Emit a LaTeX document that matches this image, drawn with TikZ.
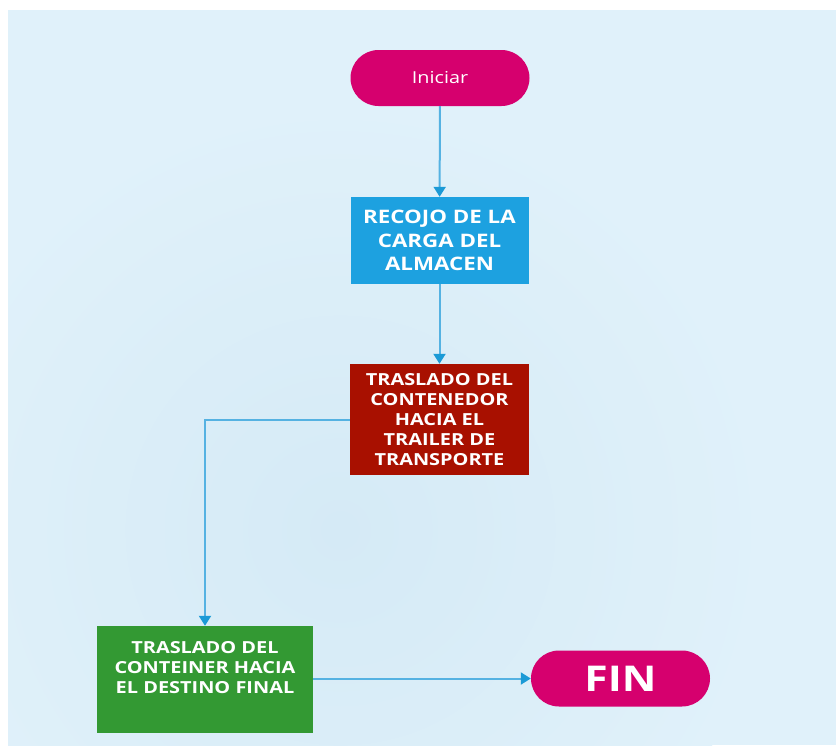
\documentclass[tikz,border=0pt]{standalone}
\usepackage{fontspec}
\setmainfont{Open Sans}
\newfontfamily\boxfont[FakeStretch=1.2]{Open Sans}
\usetikzlibrary{arrows.meta}

\definecolor{panel}{HTML}{E0F1FA}
\definecolor{panelmid}{HTML}{D5EAF6}
\definecolor{termcol}{HTML}{D6006E}
\definecolor{bluebox}{HTML}{1DA1E0}
\definecolor{redbox}{HTML}{A81000}
\definecolor{greenbox}{HTML}{339933}
\definecolor{linecol}{HTML}{55B2E2}
\definecolor{tipcol}{HTML}{1B9AD6}

\tikzset{
  terminal/.style={fill=termcol, minimum width=179pt, minimum height=56pt,
    rounded corners=28pt, inner sep=0pt, text=white},
  procbox/.style={minimum width=178pt, inner sep=0pt, text=white,
    align=center, font=\boxfont\bfseries\fontsize{16.6}{20.2}\selectfont},
  flow/.style={draw=linecol, line width=2pt,
    -{Triangle[length=10pt,width=12pt,color=tipcol]}},
}

\begin{document}
\begin{tikzpicture}[x=1pt, y=-1pt]
  % page and tinted panel
  \fill[white] (0,0) rectangle (836,745);
  \fill[panel] (8,10) rectangle (836,745);
  \begin{scope}
    \clip (8,10) rectangle (836,745);
    \shade[inner color=panelmid, outer color=panel] (340,530) circle (430);
  \end{scope}
  \useasboundingbox (0,0) rectangle (836,745);

  % start and end terminals
  \node[terminal, font=\boxfont\fontsize{16.5}{18}\selectfont] (ini) at (440,78) {Iniciar};
  \node[terminal, font=\boxfont\bfseries\fontsize{35.5}{38}\selectfont] (fin) at (620.5,678.5) {FIN};

  % process steps
  \node[procbox, fill=bluebox, minimum height=87pt,
        font=\boxfont\bfseries\fontsize{18.6}{23.5}\selectfont] (rec) at (439.5,240.5)
        {RECOJO DE LA\\CARGA DEL\\ALMACEN};
  \node[procbox, fill=redbox, minimum width=179pt, minimum height=111pt] (tras) at (439.5,419.5)
        {TRASLADO DEL\\CONTENEDOR\\HACIA EL\\TRAILER DE\\TRANSPORTE};
  \node[fill=greenbox, minimum width=216pt, minimum height=107pt, inner sep=0pt] (dest) at (205,679.5) {};
  \node[procbox, anchor=north] (desttxt) at (205,641)
        {TRASLADO DEL\\CONTEINER HACIA\\EL DESTINO FINAL};

  % connectors
  \draw[flow] (ini) -- (rec);
  \draw[flow] (rec) -- (tras);
  \draw[flow] (tras.west) -| (dest.north);
  \draw[flow] (dest.east |- fin.west) -- (fin.west);
\end{tikzpicture}
\end{document}
